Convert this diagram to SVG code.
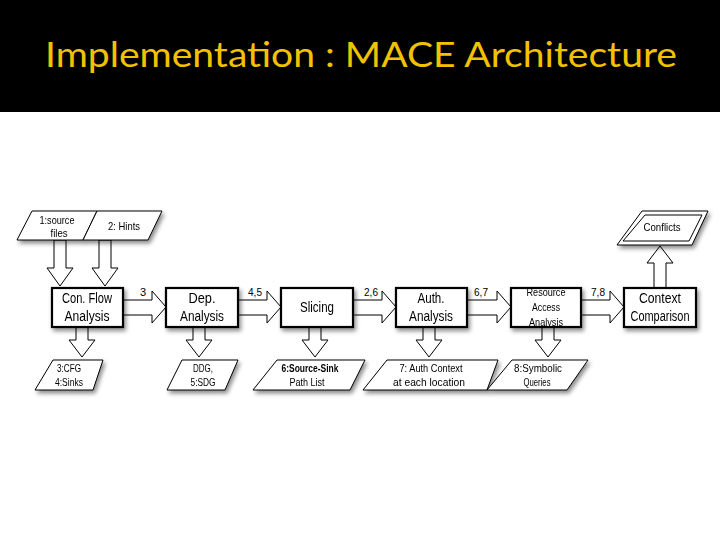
<svg xmlns="http://www.w3.org/2000/svg" width="720" height="540" viewBox="0 0 720 540">
<defs>
<filter id="sh" x="-20%" y="-20%" width="150%" height="160%">
<feDropShadow dx="2" dy="3" stdDeviation="2" flood-color="#000" flood-opacity="0.45"/>
</filter>
<style>
.box{fill:#fff;stroke:#000;stroke-width:2.2}
.para{fill:#fff;stroke:#000;stroke-width:1}
.arr{fill:#fff;stroke:#000;stroke-width:1}
.t{font-family:"Liberation Sans",Arial,sans-serif;fill:#000;text-anchor:middle}
.bt{font-size:14px}
.st{font-size:11px}
.rt{font-size:10.5px}
.lab{font-family:"Liberation Sans",Arial,sans-serif;font-size:11px;fill:#000;text-anchor:middle}
</style>
</defs>
<rect x="0" y="0" width="720" height="540" fill="#fff"/>
<rect x="0" y="0" width="720" height="112" fill="#000"/>
<text x="361" y="67" font-family="Lato,'Open Sans',sans-serif" font-size="34" fill="#F2C200" text-anchor="middle" textLength="632" lengthAdjust="spacingAndGlyphs">Implementation : MACE Architecture</text>

<g id="connectors">
<polygon class="arr" points="123,300 152,300 152,291 166,307 152,323 152,315 123,315"/>
<polygon class="arr" points="238,300 267,300 267,291 281,307 267,323 267,315 238,315"/>
<polygon class="arr" points="353,300 382,300 382,291 396,307 382,323 382,315 353,315"/>
<polygon class="arr" points="467,300 497,300 497,291 511,307 497,323 497,315 467,315"/>
<polygon class="arr" points="581,300 610,300 610,291 624,307 610,323 610,315 581,315"/>
<text class="lab" x="143" y="296">3</text>
<text class="lab" x="255" y="296" textLength="14" lengthAdjust="spacingAndGlyphs">4,5</text>
<text class="lab" x="371" y="296" textLength="14" lengthAdjust="spacingAndGlyphs">2,6</text>
<text class="lab" x="481" y="296" textLength="14" lengthAdjust="spacingAndGlyphs">6,7</text>
<text class="lab" x="598" y="296" textLength="14" lengthAdjust="spacingAndGlyphs">7,8</text>
<polygon class="arr" points="54,240 66,240 66,268 73,268 60,286 47,268 54,268"/>
<polygon class="arr" points="99,240 111,240 111,268 118,268 105,286 92,268 99,268"/>
<polygon class="arr" points="76,327 88,327 88,340 95,340 82,357 69,340 76,340"/>
<polygon class="arr" points="193,327 205,327 205,340 212,340 199,357 186,340 193,340"/>
<polygon class="arr" points="309,327 321,327 321,340 328,340 315,357 302,340 309,340"/>
<polygon class="arr" points="423,327 435,327 435,340 442,340 429,357 416,340 423,340"/>
<polygon class="arr" points="542,327 554,327 554,340 561,340 548,357 535,340 542,340"/>
<polygon class="arr" points="654,288 666,288 666,263 673,263 660,246 647,263 654,263"/>
</g>

<g id="n-source" filter="url(#sh)">
<polygon class="para" points="32,211 97,211 83,240 17,240"/>
<text class="t st" x="57" y="224" textLength="35" lengthAdjust="spacingAndGlyphs">1:source</text>
<text class="t st" x="59" y="237" textLength="17" lengthAdjust="spacingAndGlyphs">files</text>
</g>
<g id="n-hints" filter="url(#sh)">
<polygon class="para" points="97,211 162,211 148,240 83,240"/>
<text class="t st" x="124" y="230" textLength="32" lengthAdjust="spacingAndGlyphs">2: Hints</text>
</g>

<g id="n-conflow" filter="url(#sh)">
<rect class="box" x="52" y="288" width="71" height="39"/>
<text class="t bt" x="87" y="303" textLength="50" lengthAdjust="spacingAndGlyphs">Con. Flow</text>
<text class="t bt" x="87" y="321" textLength="45" lengthAdjust="spacingAndGlyphs">Analysis</text>
</g>
<g id="n-dep" filter="url(#sh)">
<rect class="box" x="166" y="288" width="72" height="39"/>
<text class="t bt" x="202" y="303" textLength="27" lengthAdjust="spacingAndGlyphs">Dep.</text>
<text class="t bt" x="202" y="321" textLength="44" lengthAdjust="spacingAndGlyphs">Analysis</text>
</g>
<g id="n-slicing" filter="url(#sh)">
<rect class="box" x="281" y="288" width="72" height="39"/>
<text class="t bt" x="317" y="312" textLength="34" lengthAdjust="spacingAndGlyphs">Slicing</text>
</g>
<g id="n-auth" filter="url(#sh)">
<rect class="box" x="396" y="288" width="71" height="39"/>
<text class="t bt" x="431" y="303" textLength="27" lengthAdjust="spacingAndGlyphs">Auth.</text>
<text class="t bt" x="431" y="321" textLength="44" lengthAdjust="spacingAndGlyphs">Analysis</text>
</g>
<g id="n-resource" filter="url(#sh)">
<rect class="box" x="511" y="288" width="70" height="39"/>
<text class="t rt" x="546" y="296" textLength="39" lengthAdjust="spacingAndGlyphs">Resource</text>
<text class="t rt" x="546" y="311" textLength="28" lengthAdjust="spacingAndGlyphs">Access</text>
<text class="t rt" x="546" y="326" textLength="34" lengthAdjust="spacingAndGlyphs">Analysis</text>
</g>
<g id="n-context" filter="url(#sh)">
<rect class="box" x="624" y="288" width="72" height="39"/>
<text class="t bt" x="660" y="303" textLength="42" lengthAdjust="spacingAndGlyphs">Context</text>
<text class="t bt" x="660" y="321" textLength="59" lengthAdjust="spacingAndGlyphs">Comparison</text>
</g>

<g id="n-conflicts" filter="url(#sh)">
<polygon class="para" points="642,211 708,211 692,245 617,245"/>
<polygon class="para" points="645,215 702,215 689,241 623,241"/>
<text class="t st" x="662" y="231" textLength="37" lengthAdjust="spacingAndGlyphs">Conflicts</text>
</g>

<g id="n-cfg" filter="url(#sh)">
<polygon class="para" points="53,360 103,360 93,390 35,390"/>
<text class="t st" x="69" y="372" textLength="24" lengthAdjust="spacingAndGlyphs">3:CFG</text>
<text class="t st" x="69" y="386" textLength="28" lengthAdjust="spacingAndGlyphs">4:Sinks</text>
</g>
<g id="n-ddg" filter="url(#sh)">
<polygon class="para" points="182,360 238,360 225,390 167,390"/>
<text class="t st" x="203" y="372" textLength="20" lengthAdjust="spacingAndGlyphs">DDG,</text>
<text class="t st" x="203" y="386" textLength="25" lengthAdjust="spacingAndGlyphs">5:SDG</text>
</g>
<g id="n-path" filter="url(#sh)">
<polygon class="para" points="277,360 365,360 350,390 253,390"/>
<text class="t st" x="310" y="372" font-weight="bold" textLength="57" lengthAdjust="spacingAndGlyphs">6:Source-Sink</text>
<text class="t st" x="307" y="386" textLength="35" lengthAdjust="spacingAndGlyphs">Path List</text>
</g>
<g id="n-authctx" filter="url(#sh)">
<polygon class="para" points="387,360 498,360 487,390 363,390"/>
<text class="t st" x="431" y="372" textLength="63" lengthAdjust="spacingAndGlyphs">7: Auth Context</text>
<text class="t st" x="429" y="386" textLength="72" lengthAdjust="spacingAndGlyphs">at each location</text>
</g>
<g id="n-queries" filter="url(#sh)">
<polygon class="para" points="512,360 588,360 567,390 487,390"/>
<text class="t st" x="538" y="372" textLength="48" lengthAdjust="spacingAndGlyphs">8:Symbolic</text>
<text class="t st" x="537" y="386" textLength="27" lengthAdjust="spacingAndGlyphs">Queries</text>
</g>
</svg>
